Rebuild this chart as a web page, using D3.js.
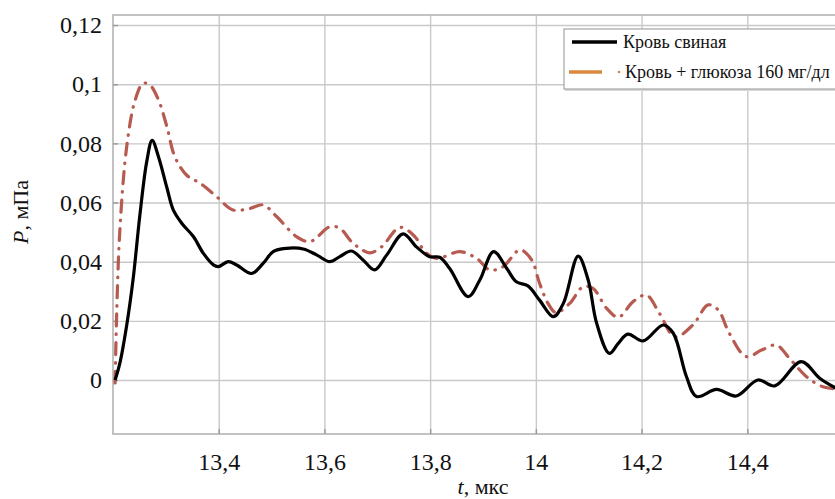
<!DOCTYPE html>
<html>
<head>
<meta charset="utf-8">
<script src="https://cdn.jsdelivr.net/npm/d3@7"></script>
<style>
  body { margin: 0; background: #fff; overflow: hidden; }
  .chart { width: 835px; height: 499px; }
  .chart text { font-family: "Liberation Serif", "Times New Roman", serif; fill: #111; }
</style>
</head>
<body>
<div class="chart"></div>
<script>

// Кровь свиная (black solid)
var timeBlood = [13.204, 13.213, 13.226, 13.238, 13.251, 13.264, 13.274, 13.286, 13.302, 13.314,
  13.330, 13.352, 13.371, 13.390, 13.399, 13.418, 13.434, 13.462, 13.484, 13.503,
  13.528, 13.560, 13.585, 13.610, 13.629, 13.651, 13.673, 13.695, 13.718, 13.749,
  13.774, 13.799, 13.818, 13.837, 13.872, 13.894, 13.920, 13.945, 13.963, 13.985,
  14.007, 14.033, 14.052, 14.080, 14.099, 14.115, 14.139, 14.156, 14.174, 14.203,
  14.241, 14.260, 14.285, 14.304, 14.342, 14.379, 14.420, 14.452, 14.502, 14.537, 14.570];
var pressureBlood = [0.0, 0.0057, 0.0186, 0.034, 0.056, 0.074, 0.081, 0.0755, 0.065, 0.0575,
  0.053, 0.0485, 0.0428, 0.0389, 0.0383, 0.040, 0.0389, 0.036, 0.0394, 0.0434,
  0.0445, 0.0443, 0.0423, 0.040, 0.0417, 0.0436, 0.0406, 0.0372, 0.0423, 0.0494,
  0.045, 0.0417, 0.0415, 0.0377, 0.0282, 0.0338, 0.0434, 0.0377, 0.0332, 0.0318,
  0.027, 0.0214, 0.0259, 0.0419, 0.0338, 0.0192, 0.009, 0.0124, 0.0155, 0.0132,
  0.0186, 0.0158, 0.0011, -0.0056, -0.0032, -0.0054, 0.0, -0.002, 0.0062, 0.0006, -0.003];

// Кровь + глюкоза 160 мг/дл (dash-dot)
var timeGlucose = [13.204, 13.207, 13.213, 13.226, 13.242, 13.257, 13.270, 13.286, 13.302, 13.317,
  13.339, 13.365, 13.396, 13.427, 13.459, 13.484, 13.510, 13.547, 13.573, 13.610,
  13.629, 13.651, 13.667, 13.686, 13.708, 13.743, 13.771, 13.790, 13.812, 13.856,
  13.888, 13.913, 13.938, 13.970, 13.992, 14.007, 14.023, 14.038, 14.064, 14.089,
  14.108, 14.134, 14.156, 14.184, 14.209, 14.234, 14.263, 14.297, 14.326, 14.345,
  14.366, 14.398, 14.427, 14.455, 14.480, 14.512, 14.543, 14.570];
var pressureGlucose = [-0.001, 0.0226, 0.0507, 0.079, 0.0947, 0.1003, 0.0997, 0.0947, 0.0856, 0.0755,
  0.0693, 0.0665, 0.062, 0.0575, 0.058, 0.0592, 0.0552, 0.0485, 0.0468, 0.0518,
  0.0513, 0.0468, 0.0445, 0.043, 0.045, 0.0516, 0.0485, 0.0434, 0.0411, 0.0434,
  0.0411, 0.0372, 0.0383, 0.044, 0.0406, 0.0327, 0.0259, 0.0228, 0.0259, 0.0315,
  0.031, 0.0242, 0.0212, 0.0265, 0.0287, 0.0225, 0.0146, 0.0186, 0.0254, 0.0237,
  0.0158, 0.0079, 0.0101, 0.0118, 0.0073, 0.0011, -0.0023, -0.003];

var xGrid = [13.4, 13.6, 13.8, 14, 14.2, 14.4, 14.6];
var xTicks = [13.4, 13.6, 13.8, 14, 14.2, 14.4];
var yTicks = [0, 0.02, 0.04, 0.06, 0.08, 0.1, 0.12];
var legendLabels = ["Кровь свиная", "Кровь + глюкоза 160 мг/дл"];

function commaFormat(d) {
  return String(+d.toFixed(2)).replace(".", ",");
}

function drawPressureChart() {
  var eleChart = d3.select(".chart").html(""),
      margin = {top: 15, left: 113},
      width = 740,
      height = 419;

  var svg = eleChart.append("svg").attr("width", 835).attr("height", 499);

  var x = d3.scaleLinear().domain([13.2, 14.6]).range([0, width]),
      y = d3.scaleLinear().domain([-0.01826, 0.1234]).range([height, 0]);

  var g = svg.append("g")
      .attr("transform", "translate(" + margin.left + "," + margin.top + ")");

  g.append("clipPath").attr("id", "plot-clip")
    .append("rect").attr("width", width).attr("height", height);

  // grid
  g.append("g")
      .attr("class", "grid-x")
      .attr("transform", "translate(0," + height + ")")
      .call(d3.axisBottom(x).tickValues(xGrid).tickSize(-height).tickFormat(""));
  g.append("g")
      .attr("class", "grid-y")
      .call(d3.axisLeft(y).tickValues(yTicks).tickSize(-width).tickFormat(""));
  g.selectAll(".grid-x .domain, .grid-y .domain").remove();
  g.selectAll(".grid-x line, .grid-y line")
      .attr("stroke", "#c9c9c9")
      .attr("stroke-width", 1.4);

  // frame
  g.append("rect")
      .attr("width", width).attr("height", height)
      .attr("fill", "none")
      .attr("stroke", "#b3b3b3")
      .attr("stroke-width", 1.6);

  // axes with labels
  g.append("g")
      .attr("class", "axis axis-x")
      .attr("transform", "translate(0," + height + ")")
      .call(d3.axisBottom(x).tickValues(xTicks).tickSize(-5).tickPadding(19).tickFormat(commaFormat));
  g.append("g")
      .attr("class", "axis axis-y")
      .call(d3.axisLeft(y).tickValues(yTicks).tickSize(-5).tickPadding(11).tickFormat(commaFormat));
  g.selectAll(".axis .domain").remove();
  g.selectAll(".axis line").attr("stroke", "#999").attr("stroke-width", 1.4);
  g.selectAll(".axis text")
      .style("font-size", "24px")
      .style("font-family", "'Liberation Serif', serif")
      .attr("fill", "#111");

  // lines
  var line = d3.line()
      .x(function(d) { return x(d[0]); })
      .y(function(d) { return y(d[1]); })
      .curve(d3.curveCatmullRom.alpha(0.5));

  var plot = g.append("g").attr("clip-path", "url(#plot-clip)");

  plot.append("path")
      .datum(d3.zip(timeGlucose, pressureGlucose))
      .attr("fill", "none")
      .attr("stroke", "#b75b50")
      .attr("stroke-width", 3.2)
      .attr("stroke-linecap", "round")
      .attr("stroke-dasharray", "12,8,0.5,8")
      .attr("d", line);

  plot.append("path")
      .datum(d3.zip(timeBlood, pressureBlood))
      .attr("fill", "none")
      .attr("stroke", "#000")
      .attr("stroke-width", 3.2)
      .attr("stroke-linejoin", "round")
      .attr("d", line);

  // axis titles
  var xTitle = svg.append("text")
      .attr("x", margin.left + width / 2)
      .attr("y", 494)
      .attr("text-anchor", "middle")
      .style("font-size", "22px");
  xTitle.append("tspan").style("font-style", "italic").text("t");
  xTitle.append("tspan").text(", мкс");

  var yTitle = svg.append("text")
      .attr("transform", "translate(28,212) rotate(-90)")
      .attr("text-anchor", "middle")
      .style("font-size", "22px");
  yTitle.append("tspan").style("font-style", "italic").text("P");
  yTitle.append("tspan").text(", мПа");

  // legend
  var legend = svg.append("g").attr("transform", "translate(564,29)");
  legend.append("rect")
      .attr("x", 1).attr("y", 2)
      .attr("width", 300).attr("height", 60)
      .attr("fill", "#d8d8d8");
  legend.append("rect")
      .attr("width", 300).attr("height", 60)
      .attr("fill", "#fff")
      .attr("stroke", "#a5a5a5")
      .attr("stroke-width", 1.2);

  legend.append("line")
      .attr("x1", 8).attr("x2", 53).attr("y1", 13).attr("y2", 13)
      .attr("stroke", "#000").attr("stroke-width", 3.5);
  legend.append("line")
      .attr("x1", 5).attr("x2", 38).attr("y1", 43).attr("y2", 43)
      .attr("stroke", "#d8893f").attr("stroke-width", 3.5);
  legend.append("circle")
      .attr("cx", 55).attr("cy", 43).attr("r", 1.3)
      .attr("fill", "#d8893f");

  legend.selectAll(".legend-text")
      .data(legendLabels)
      .enter().append("text")
      .attr("class", "legend-text")
      .attr("x", function(d, i) { return i === 0 ? 59 : 61; })
      .attr("y", function(d, i) { return 13 + i * 30; })
      .attr("dy", "0.35em")
      .style("font-size", "18px")
      .text(function(d) { return d; });
}

drawPressureChart();
</script>
</body>
</html>
